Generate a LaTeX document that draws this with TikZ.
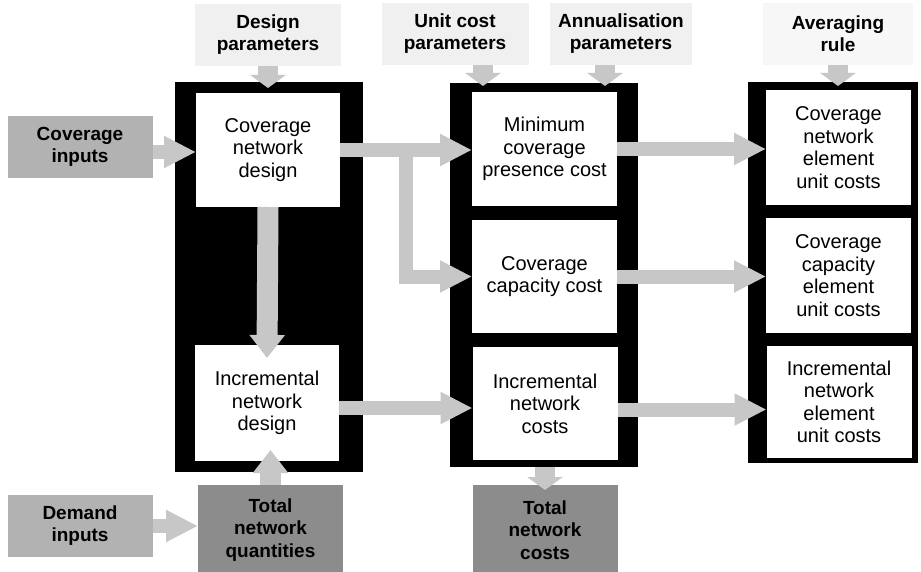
\documentclass[tikz,border=0pt]{standalone}
\usepackage{fontspec}
\setmainfont{Liberation Sans}
\usetikzlibrary{arrows.meta,calc}
\begin{document}
\begin{tikzpicture}[x=1pt,y=-1pt,
  frame/.style={fill=black, inner sep=0pt, outer sep=0pt},
  box/.style={fill=white, inner sep=0pt, outer sep=0pt, align=center,
    font=\fontsize{20}{22.5}\selectfont},
  hdr/.style={fill=black!6, inner sep=0pt, outer sep=0pt, align=center,
    font=\bfseries\fontsize{19}{22}\selectfont, minimum height=62pt},
  inp/.style={fill=black!30, inner sep=0pt, outer sep=0pt, align=center,
    font=\bfseries\fontsize{19}{22}\selectfont, minimum width=145pt, minimum height=62pt},
  tot/.style={fill=black!45, inner sep=0pt, outer sep=0pt, align=center,
    font=\bfseries\fontsize{19}{22.5}\selectfont, minimum width=145pt, minimum height=90pt},
  fat/.style={draw=black!22, line width=14pt, -{Triangle[length=32pt,width=30pt]}},
  stub/.style={draw=black!22, line width=20pt, -{Triangle[length=13pt,width=35pt]}},
  vfat/.style={draw=black!22, line width=21pt, -{Triangle[length=23pt,width=34pt]}}
]
\fill[white] (0,0) rectangle (921,572);
\useasboundingbox (0,0) rectangle (921,572);

% header boxes
\node[hdr, minimum width=146pt] (dp) at (268,35) {Design\\parameters};
\node[hdr, minimum width=147pt] (uc) at (455,34) {Unit cost\\parameters};
\node[hdr, minimum width=142pt] (an) at (621,34) {Annualisation\\parameters};
\node[hdr, minimum width=150pt, fill=black!3] (ar) at (838,34) {Averaging\\rule};

% input boxes
\node[inp] (cin) at (80,147) {Coverage\\inputs};
\node[inp] (din) at (80,526) {Demand\\inputs};

% black frames
\node[frame, minimum width=188pt, minimum height=390pt] (f1) at (269,277) {};
\node[frame, minimum width=188pt, minimum height=384pt] (f2) at (544,275) {};
\node[frame, minimum width=170pt, minimum height=381pt] (f3) at (833,272.5) {};

% inner boxes
\node[box, minimum width=144pt, minimum height=114pt] (cnd) at (268,150) {Coverage\\network\\design};
\node[box, minimum width=144pt, minimum height=116pt] (ind) at (267,403) {Incremental\\network\\design};
\node[box, minimum width=145pt, minimum height=114pt] (mcp) at (544.5,149) {Minimum\\coverage\\presence cost};
\node[box, minimum width=145pt, minimum height=113pt] (ccc) at (544.5,276.5) {Coverage\\capacity cost};
\node[box, minimum width=145pt, minimum height=113pt] (inc) at (545,403.5) {Incremental\\network\\costs};
\node[box, minimum width=145pt, minimum height=115pt] (cne) at (838.5,147.5) {Coverage\\network\\element\\unit costs};
\node[box, minimum width=145pt, minimum height=115pt] (cce) at (838.5,275.5) {Coverage\\capacity\\element\\unit costs};
\node[box, minimum width=145pt, minimum height=112pt] (ine) at (839,402) {Incremental\\network\\element\\unit costs};

% total boxes
\node[tot] (tnq) at (270.5,530) {Total\\network\\quantities};
\node[tot] (tnc) at (545,530) {Total\\network\\costs};

% stub arrows from headers
\draw[stub] (dp.south) -- ($(dp.south |- cnd.north)+(0,-5)$);
\draw[stub] ($(uc.south)+(28,0)$) -- ($(uc.south)+(28,21)$);
\draw[stub] ($(an.south)+(-16,0)$) -- ($(an.south)+(-16,21)$);
\draw[stub] (ar.south) -- ($(ar.south)+(0,21)$);

% main arrows
\draw[fat] ($(cin.east)+(0,5)$) -- ($(cnd.west)+(0,2)$);
\draw[fat] (cnd.east) -- (cnd.east -| mcp.west);
\draw[fat] ($(cnd.east)!0.5!(cnd.east -| mcp.west)$) |- (ccc.west);
\draw[vfat] (cnd.south) -- ($(ind.north)+(0,13)$);
\draw[fat] ($(ind.east)+(0,5)$) -- ($(ind.east -| inc.west)+(0,5)$);
\draw[fat] (mcp.east) -- (mcp.east -| cne.west);
\draw[fat] (ccc.east) -- (ccc.east -| cce.west);
\draw[fat] ($(inc.east)+(0,6)$) -- ($(inc.east -| ine.west)+(0,6)$);
\draw[fat] (din.east) -- (din.east -| tnq.west);
\draw[vfat] (tnq.north) -- ($(tnq.north |- ind.south)+(0,-11)$);
\draw[stub] (inc.south |- f2.south) -- ($(tnc.north)+(0,5)$);
\end{tikzpicture}
\end{document}
